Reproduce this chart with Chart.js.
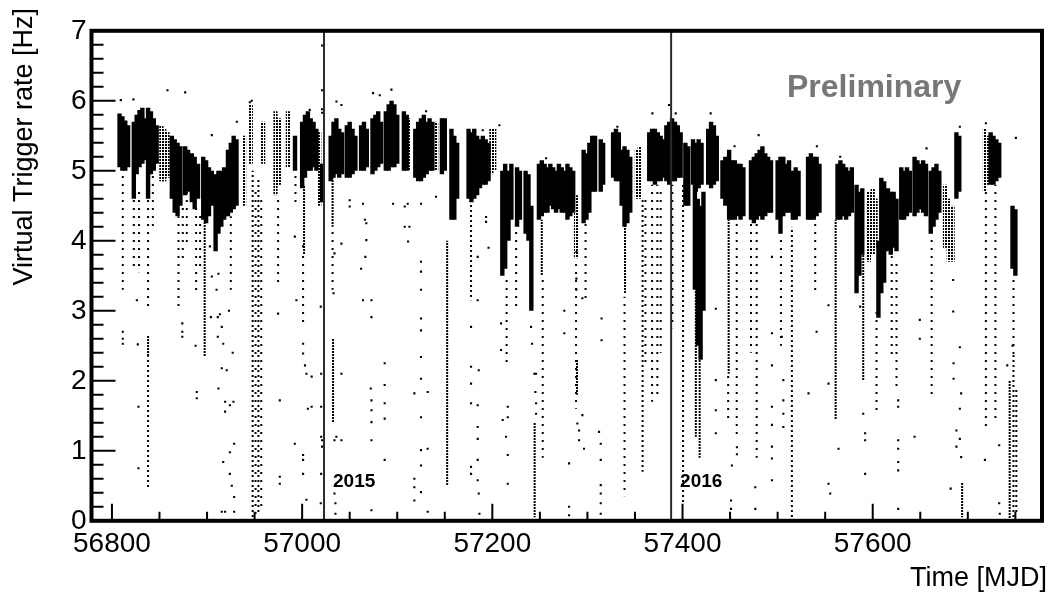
<!DOCTYPE html>
<html><head><meta charset="utf-8">
<script src="https://cdn.jsdelivr.net/npm/chart.js@4.4.1/dist/chart.umd.min.js"></script>
<style>html,body{margin:0;padding:0;background:#fff;}canvas{display:block;}</style>
</head><body>
<canvas id="c" width="1054" height="594"></canvas>
<script>
// ---- axis ticks ----
const xTickValues = [56800, 57000, 57200, 57400, 57600];
const xTickLabels = ['56800', '57000', '57200', '57400', '57600'];
const xMinorTicks = [56850, 56900, 56950, 57050, 57100, 57150, 57250, 57300, 57350, 57450, 57500, 57550, 57650, 57700, 57750];
const yTickValues = [0, 1, 2, 3, 4, 5, 6, 7];
const yTickLabels = ['0', '1', '2', '3', '4', '5', '6', '7'];
const yMinorTicks = [0.2,0.4,0.6,0.8,1.2,1.4,1.6,1.8,2.2,2.4,2.6,2.8,3.2,3.4,3.6,3.8,4.2,4.4,4.6,4.8,5.2,5.4,5.6,5.8,6.2,6.4,6.6,6.8];

// ---- year markers ----
const yearStartMJD = [57023, 57388];
const yearLabels = ['2015', '2016'];

// ---- dense cores of the rate cloud: [MJD, low, high] ----
const coreBands = [
 [56808,5.05,5.82],[56811,5.0,5.78],[56814,5.0,5.72],[56817,5.05,5.65],
 [56823,4.6,5.7],[56826,4.95,5.8],[56829,5.05,5.87],[56832,5.1,5.9],[56834.5,5.15,5.75],
 [56838,4.6,5.9],[56841,4.95,5.85],[56844,5.0,5.75],[56847,5.1,5.65],
 [56863,4.6,5.5],[56866,4.4,5.45],[56869,4.35,5.4],[56872,4.5,5.35],
 [56877,4.65,5.35],[56880,4.7,5.3],
 [56884,4.55,5.25],[56887,4.45,5.2],[56890.5,4.6,5.1],
 [56896,4.3,5.2],[56899,4.25,5.15],[56902,4.35,5.05],[56905,4.5,5.0],
 [56909,3.85,4.95],[56912,4.1,5.0],[56915,4.2,5.0],[56918,4.3,5.05],
 [56922,4.35,5.3],[56925,4.4,5.4],[56928,4.45,5.5],[56931,4.5,5.45],
 [56992.5,5.0,5.5],
 [57000,4.75,5.7],[57003,4.9,5.8],[57006,5.0,5.85],[57009,5.0,5.75],[57012,5.05,5.7],[57015,5.0,5.6],
 [57021,4.55,5.1],
 [57030,4.85,5.5],[57033,4.9,5.7],[57036,4.95,5.75],[57039,4.9,5.6],[57042,4.95,5.55],
 [57047,4.9,5.65],[57050,4.9,5.7],[57053,4.95,5.6],[57056,5.0,5.5],
 [57062,5.0,5.65],[57065,5.0,5.7],[57068,5.05,5.6],
 [57074,4.95,5.75],[57077,5.0,5.8],[57080,5.05,5.85],[57083,5.1,5.7],
 [57088,5.0,5.85],[57091,5.0,5.95],[57094,5.05,6.0],[57097,5.05,5.95],[57100,5.1,5.8],
 [57107,5.0,5.85],[57110,5.0,5.8],
 [57119,4.9,5.6],[57122,4.85,5.7],[57125,4.85,5.75],[57128,4.9,5.8],[57131,4.95,5.7],[57134,5.0,5.75],[57137,5.0,5.7],
 [57147,4.95,5.75],[57150,5.0,5.75],
 [57157,4.3,5.6],[57160,4.3,5.5],[57163,4.6,5.4],
 [57175,4.6,5.6],[57178,4.55,5.55],[57181,4.6,5.6],[57184,4.65,5.5],[57187,4.75,5.45],[57190,4.8,5.5],[57193,4.8,5.45],[57196,4.85,5.4],
 [57210.5,3.5,5.0],[57213.5,3.6,5.1],[57217,4.0,5.0],[57220,4.3,5.1],
 [57226,4.2,5.05],[57229,4.3,5.0],
 [57235,4.1,5.0],[57238,4.0,4.95],[57241,3.0,4.5],
 [57249,4.3,5.1],[57252,4.35,5.15],[57255,4.4,5.1],[57258,4.4,5.05],[57261,4.5,5.1],[57264,4.45,5.05],[57267,4.4,5.0],[57270,4.45,5.1],[57273,4.4,5.05],[57276,4.4,5.0],
 [57279,4.3,5.1],[57282,4.35,5.05],[57285,4.4,5.0],
 [57296,4.25,5.3],[57299,4.3,5.25],[57302,4.4,5.4],
 [57305,4.7,5.5],[57308,4.7,5.5],
 [57314,4.7,5.45],[57316.5,4.8,5.4],
 [57327,4.9,5.55],[57330,4.85,5.6],[57333,4.85,5.55],
 [57336,4.5,5.3],[57339,4.2,5.35],[57342,4.25,5.3],[57345,4.4,5.2],
 [57365,4.85,5.55],[57368,4.85,5.6],[57371,4.8,5.6],[57374,4.85,5.55],[57377,4.85,5.5],[57380,4.9,5.45],
 [57383,4.85,5.65],[57386,4.8,5.7],[57389,4.85,5.75],[57392,4.85,5.7],[57395,4.9,5.65],[57398,4.9,5.55],
 [57403,4.5,5.4],[57406,4.5,5.35],
 [57411,4.8,5.45],[57414,4.7,5.4],[57417,4.75,5.45],[57420,4.8,5.4],
 [57413,3.3,4.8],[57416,2.5,4.6],[57419,2.3,4.5],[57422,3.0,4.7],
 [57427,4.8,5.6],[57430,4.75,5.7],[57433,4.8,5.65],[57436,4.85,5.5],
 [57442,4.6,5.15],[57445,4.5,5.2],
 [57449,4.3,5.3],[57452,4.3,5.15],[57455,4.3,5.15],[57458,4.35,5.1],[57461,4.3,5.1],[57464,4.35,5.05],
 [57472,4.3,5.15],[57475,4.25,5.2],[57478,4.3,5.25],[57481,4.35,5.3],[57484,4.3,5.35],[57487,4.35,5.25],[57490,4.4,5.2],[57493,4.4,5.15],
 [57500,4.3,5.15],[57503,4.1,5.2],[57506,4.35,5.2],[57509,4.4,5.1],[57512,4.4,5.15],
 [57516,4.3,5.0],[57519,4.3,5.05],[57522,4.35,5.0],
 [57532,4.3,5.2],[57535,4.3,5.25],[57538,4.3,5.2],[57541,4.35,5.2],[57544,4.4,5.1],
 [57563,4.3,5.1],[57566,4.3,5.15],[57569,4.35,5.1],[57572,4.3,5.05],[57575,4.35,5.0],[57578,4.4,5.05],
 [57583,3.25,4.8],[57586,3.5,4.7],[57589,3.8,4.75],
 [57606,2.9,4.0],
 [57609,3.25,4.9],[57612,3.4,4.85],
 [57616,3.85,4.75],[57619,3.8,4.7],[57622,3.9,4.7],[57625,3.85,4.6],
 [57630,4.3,5.05],[57633,4.3,5.0],[57636,4.35,5.05],[57639,4.4,5.0],
 [57644,4.35,5.2],[57647,4.4,5.15],[57650,4.45,5.1],[57653,4.4,5.15],[57656,4.35,5.1],
 [57661,4.1,5.0],[57664,4.2,5.05],[57667,4.3,5.1],[57670,4.4,5.0],
 [57688,4.6,5.55],[57691,4.7,5.5],
 [57724,4.8,5.55],[57727,4.8,5.5],[57730,4.85,5.45],[57733,4.9,5.4],
 [57747,3.6,4.5],[57750,3.5,4.45]
];

// ---- medium-density parts of the cloud: [MJD, low, high] ----
const semiBands = [
 [56852,4.85,5.65],[56855,4.85,5.6],[56858.5,4.9,5.55],
 [56939,4.5,5.5],[56946,5.1,5.95],[56959,5.1,5.7],
 [56972,4.65,5.85],[56975.5,4.8,5.75],[56985,5.05,5.85],
 [57018,4.5,5.55],[57112,5.0,5.75],[57141,5.0,5.7],
 [57199,4.95,5.6],[57202,5.0,5.6],[57288,3.75,4.65],
 [57352,4.6,5.3],[57355,4.6,5.35],
 [57596,3.7,4.7],[57600,3.8,4.75],[57603,3.9,4.6],
 [57676,3.9,4.8],[57680,3.7,4.6],[57684,3.7,4.5],
 [57718,4.7,5.6],[57721,4.8,5.5]
];

// ---- vertical trails of points (dense / medium / sparse): [MJD, low, high] ----
const denseTrails = [
 [56838,2.35,2.65],[56897.5,2.35,4.3],[57002,3.8,4.8],[57032,4.2,4.9],[57032.5,1.4,2.6],
 [57152.5,0.5,4.0],[57244.5,0.05,1.4],[57252,3.5,4.3],[57289,1.8,2.3],[57339.5,3.25,4.3],
 [57414,1.2,3.3],[57418,0.9,2.3],[57448.5,2.1,4.3],[57561,1.45,4.3],[57590,2.0,3.8],
 [57694,0.05,0.55],[57744,0.0,2.0]
];
const mediumTrails = [
 [56838,0.48,2.35],[56948,0.0,5.0],[56954,0.1,4.9],
 [57177.6,3.15,4.58],[57358,0.7,4.6],[57400.5,0.25,4.8],[57515,0.0,4.2],
 [57748,0.0,2.4],[57751,0.1,1.9]
];
const sparseTrails = [
 [56811.4,3.3,4.96],[56823,3.6,4.6],[56828.5,3.55,4.7],[56838,3.05,4.6],[56843,4.2,5.0],
 [56870,3.0,4.35],[56874.5,3.7,4.5],[56878.7,3.9,4.7],[56888.5,3.25,4.55],[56892.7,3.6,4.4],
 [56925,3.3,4.35],[56951,0.0,4.7],[56957,0.2,4.6],[56974.7,3.4,4.6],[56993,4.5,5.0],[57001,2.8,3.8],[57032,3.3,4.2],
 [57215,2.2,3.5],[57225,3.0,4.2],[57253,0.9,3.5],[57288,1.6,3.7],[57298,3.15,4.25],
 [57339,0.35,3.2],[57361,2.2,4.6],[57368,1.7,4.8],[57373.5,1.8,4.8],[57377,2.4,4.7],
 [57389.3,2.75,4.8],[57448,1.4,2.1],[57457,1.2,4.3],[57472,2.4,4.3],[57478,0.9,4.3],
 [57503.5,2.5,4.1],[57539.5,3.25,4.3],[57604,1.5,3.0],[57620,2.3,3.8],[57625,1.9,3.7],
 [57662,1.8,4.1],[57719,1.3,4.7],[57729,1.4,4.8],[57748,2.3,3.5]
];

// ---- isolated points: [MJD, rate] ----
const loosePoints = [
 [56809.3,6.01],[56822.6,6.02],[56858.4,6.15],[56877,6.12],[56931.3,5.70],[56905,5.51],[56945,5.98],[56947,6.0],
 [56811.4,2.70],[56811.4,2.60],[56811.4,2.53],[56826.2,3.15],[56827.2,2.52],[56827.9,1.63],[56827.9,0.75],
 [56874,2.82],[56874,2.70],[56874,2.63],[56889.2,1.84],[56889.2,1.75],[56888,2.5],
 [56903,3.92],[56905,3.49],[56904,2.91],[56910,3.3],[56923,3.0],[56927,2.4],
 [56912,3.53],[56911.3,2.91],[56913.5,2.95],[56915.5,2.77],[56911.3,2.63],[56917,2.53],[56915.5,2.18],[56920.7,2.15],
 [56912,1.89],[56919,1.70],[56927.8,1.70],[56919,1.56],[56924,1.65],[56928.5,1.10],[56924,0.98],[56917,0.84],
 [56924,0.67],[56926,0.5],[56928.5,0.34],[56915.5,0.13],[56919,0.13],[56928.5,0.13],
 [57021,6.79],[57021,6.15],[57021,5.88],[57021,5.83],
 [57019.6,3.06],[57020,2.1],[57020,1.63],[57020,1.2],[57021,1.15],[57021,1.06],[57020,0.67],[57019.6,0.25],
 [56974.7,2.96],[56976.5,1.72],[56976.5,0.63],[56976.5,0.53],
 [56992.3,4.06],[57001,3.92],[56994,3.15],[56992.3,1.10],[57001,0.94],[57001,0.67],
 [57001,2.53],[57001,2.39],[57003,2.22],[57004.5,2.10],[57010,2.06],[57010,1.63],[57006,1.6],[57001,0.87],[57004.5,0.3],
 [57036.1,5.99],[57041.3,5.94],[57008,5.87],[57074.6,6.11],[57081.6,6.08],[57093.9,6.16],
 [57034,3.82],[57033,3.25],[57034,1.15],[57041.3,1.15],[57034,0.39],[57035,0.25],[57035,0.1],[57041.3,2.1],[57041.3,3.96],[57036,1.2],
 [57050,4.58],[57050,4.49],
 [57064,4.53],[57066,4.3],[57067.5,4.25],[57067.5,4.01],[57066.5,3.77],[57062,3.6],[57064,3.15],[57072.9,3.15],[57072.9,2.91],
 [57072.2,1.89],[57072.9,1.72],[57072.9,1.58],[57072.9,1.41],[57072.9,1.15],[57072.9,0.15],
 [57086.8,2.25],[57086.8,1.94],[57086.8,1.68],[57086.8,1.46],[57086.8,0.87],
 [57095.6,4.53],[57107.9,4.49],[57107.9,4.2],[57111.4,3.99],
 [57111,4.53],[57112.8,4.2],
 [57125,4.53],[57125,3.70],[57125,3.56],[57125,3.30],[57125,2.89],[57125,2.72],[57125,2.34],[57125,2.03],[57118,1.82],[57132,1.84],
 [57125,1.48],[57125,1.01],[57132,1.03],[57125,0.79],[57118,0.60],[57118,0.48],[57118,0.29],[57125,0.41],[57132,0.13],[57140.8,4.63],
 [57130.3,5.85],[57147.8,5.73],[57189.9,5.58],[57207.4,5.65],[57256.5,5.18],
 [57177.6,2.77],[57177.6,2.2],[57177.6,1.96],[57177.6,1.68],[57177.6,0.77],[57177.6,0.67],
 [57184.6,3.77],[57184.6,3.15],[57185.7,2.15],[57184.6,1.65],[57184.6,1.34],[57184.6,1.17],[57184.6,0.87],[57184.6,0.58],[57185.7,0.39],[57186.4,0.1],
 [57193.4,4.34],[57193.4,4.27],[57196,3.9],
 [57209.2,2.82],[57209.2,2.44],[57216.2,1.63],[57216.2,1.48],[57214.4,1.2],[57216.2,0.94],[57216.2,0.53],[57210.9,1.44],
 [57240.7,2.77],[57241.8,2.53],[57244.2,2.1],[57246,2.1],[57245.3,1.84],[57246,1.68],[57246,1.53],
 [57275.7,3.0],[57275.7,2.68],
 [57280.7,0.82],[57280.7,0.2],[57280.7,0.08],
 [57289.4,1.39],[57291.2,1.29],[57291.2,1.15],[57296.4,1.03],[57294.7,1.51],[57312.2,1.27],[57314,1.10],[57314,0.87],[57314,0.51],[57314,0.39],[57314,0.25],[57314,0.1],
 [57288.4,3.84],[57288.4,3.46],[57288.4,3.30],[57294.7,3.18],[57314.9,2.89],[57314.9,2.58],
 [57331.5,5.63],[57368.3,5.82],[57385.8,5.94],[57392.8,5.82],[57429.6,5.82],
 [57435,3.03],[57435,2.01],[57435,1.58],[57435,1.25],
 [57451.9,0.79],[57457.2,1.05],[57457.2,0.95],[57451,0.29],[57451,0.17],[57476.5,0.48],[57476.5,0.17],
 [57494,3.77],[57494,2.68],[57494,2.22],[57494,1.63],[57494,1.37],[57494,1.06],[57494,0.89],[57494,0.58],
 [57504.5,2.63],[57506,2.01],[57506,1.72],[57506,1.53],[57506,1.34],
 [57541,2.70],[57553.5,3.08],[57532.5,1.82],[57553.5,0.53],[57555.3,0.39],[57553.5,1.96],[57564,1.03],
 [57480,5.51],[57454.7,5.35],[57541.3,5.35],[57565.8,5.2],
 [57590,1.53],[57592,1.25],[57592,1.15],[57592,0.67],[57586.8,3.06],
 [57626.8,1.72],[57626.8,1.63],[57626.8,1.15],[57626.8,1.03],[57626.8,0.84],[57626.8,0.72],[57626.8,0.17],
 [57649.5,2.87],[57644,1.20],[57649.5,2.6],
 [57684.6,3.44],[57684.6,2.99],[57691.6,2.48],[57685,2.25],[57685,2.03],[57693,1.82],[57691.6,1.6],[57688,1.29],[57691.6,1.17],[57688,1.06],[57693,0.91],[57682,0.46],
 [57718,0.87],[57733,1.08],[57733,0.25],[57733.6,0.1],
 [57656.6,5.32],[57691.6,5.63],[57719,5.68],[57750.5,5.47],[57741.5,2.22],[57747,2.5]
];

// ---- drawing ----
const FONT = '"Liberation Sans", Arial, Helvetica, sans-serif';
const canvas = document.getElementById('c');
const mainCtx = canvas.getContext('2d');
function makePattern(w, h, fw, fh) {
  const c = document.createElement('canvas'); c.width = w; c.height = h;
  const g = c.getContext('2d'); g.fillStyle = '#000'; g.fillRect(0, 0, fw, fh);
  return mainCtx.createPattern(c, 'repeat');
}
const semiPat = makePattern(3, 3, 2, 2);
const densePat = makePattern(1, 3, 1, 2);
const medPat = makePattern(1, 5, 1, 2);
const sparsePat = makePattern(1, 8, 1, 2);

const toBars = rows => rows.map(r => ({ x: r[0], y: [r[1], r[2]] }));
const barSet = (rows, fill, thick) => ({
  type: 'bar', data: toBars(rows), backgroundColor: fill, borderWidth: 0,
  barThickness: thick, grouped: false, inflateAmount: 0
});

const datasets = [
  ...yearStartMJD.map(m => ({
    type: 'line', data: [{ x: m, y: 0 }, { x: m, y: 7 }],
    borderColor: '#2b2b2b', borderWidth: 2, pointRadius: 0, fill: false
  })),
  { type: 'scatter', data: loosePoints.map(p => ({ x: p[0], y: p[1] })),
    pointStyle: 'rect', pointRadius: 1.5, backgroundColor: '#000', borderWidth: 0 },
  barSet(coreBands, '#000', 4.4),
  barSet(semiBands, semiPat, 4.2),
  barSet(denseTrails, densePat, 2),
  barSet(mediumTrails, medPat, 2),
  barSet(sparseTrails, sparsePat, 2)
];

const rootFrame = {
  id: 'rootFrame',
  afterDatasetsDraw(chart) {
    const { ctx, chartArea: a, scales: { x, y } } = chart;
    ctx.save();
    ctx.strokeStyle = '#000';
    ctx.lineWidth = 2;
    ctx.beginPath();
    yMinorTicks.forEach(v => { const p = y.getPixelForValue(v); ctx.moveTo(a.left, p); ctx.lineTo(a.left + 12, p); });
    yTickValues.forEach(v => { const p = y.getPixelForValue(v); ctx.moveTo(a.left, p); ctx.lineTo(a.left + 24, p); });
    xMinorTicks.forEach(v => { const p = x.getPixelForValue(v); ctx.moveTo(p, a.bottom); ctx.lineTo(p, a.bottom - 9); });
    xTickValues.forEach(v => { const p = x.getPixelForValue(v); ctx.moveTo(p, a.bottom); ctx.lineTo(p, a.bottom - 17); });
    ctx.stroke();
    ctx.lineWidth = 4;
    ctx.strokeRect(a.left, a.top, a.right - a.left, a.bottom - a.top);
    ctx.restore();
  },
  afterDraw(chart) {
    const { ctx, scales: { x } } = chart;
    ctx.save();
    ctx.fillStyle = '#000';
    ctx.font = '27px ' + FONT;
    ctx.textBaseline = 'alphabetic';
    ctx.textAlign = 'right';
    ctx.fillText('Time [MJD]', 1047, 586);
    ctx.save();
    ctx.translate(31.5, 8);
    ctx.rotate(-Math.PI / 2);
    ctx.textAlign = 'right';
    ctx.fillText('Virtual Trigger rate [Hz]', 0, 0);
    ctx.restore();
    ctx.textAlign = 'left';
    ctx.font = 'bold 32px ' + FONT;
    ctx.fillStyle = '#777777';
    ctx.fillText('Preliminary', 787, 96.5);
    ctx.fillStyle = '#000';
    ctx.font = 'bold 19px ' + FONT;
    yearStartMJD.forEach((m, i) => ctx.fillText(yearLabels[i], x.getPixelForValue(m) + 9, 486.5));
    ctx.restore();
  }
};

new Chart(canvas, {
  type: 'bar',
  data: { datasets },
  options: {
    responsive: false, animation: false, devicePixelRatio: 1,
    layout: { padding: { left: 0, right: 12, top: 30.8, bottom: 0 } },
    plugins: { legend: { display: false }, tooltip: { enabled: false } },
    scales: {
      x: {
        type: 'linear', min: 56778.5, max: 57778, offset: false,
        grid: { display: false, drawTicks: false }, border: { display: false },
        afterBuildTicks: s => { s.ticks = xTickValues.map(v => ({ value: v })); },
        afterFit: s => { s.height = 73.2; },
        ticks: { autoSkip: false, maxRotation: 0, padding: 7, color: '#000',
          font: { family: FONT, size: 28 }, callback: (v, i) => xTickLabels[i] }
      },
      y: {
        type: 'linear', min: 0, max: 7,
        grid: { display: false, drawTicks: false }, border: { display: false },
        afterBuildTicks: s => { s.ticks = yTickValues.map(v => ({ value: v })); },
        afterFit: s => { s.width = 91.5; },
        ticks: { autoSkip: false, padding: 5, color: '#000',
          font: { family: FONT, size: 28 }, callback: (v, i) => yTickLabels[i] }
      }
    }
  },
  plugins: [rootFrame]
});
</script>
</body></html>
